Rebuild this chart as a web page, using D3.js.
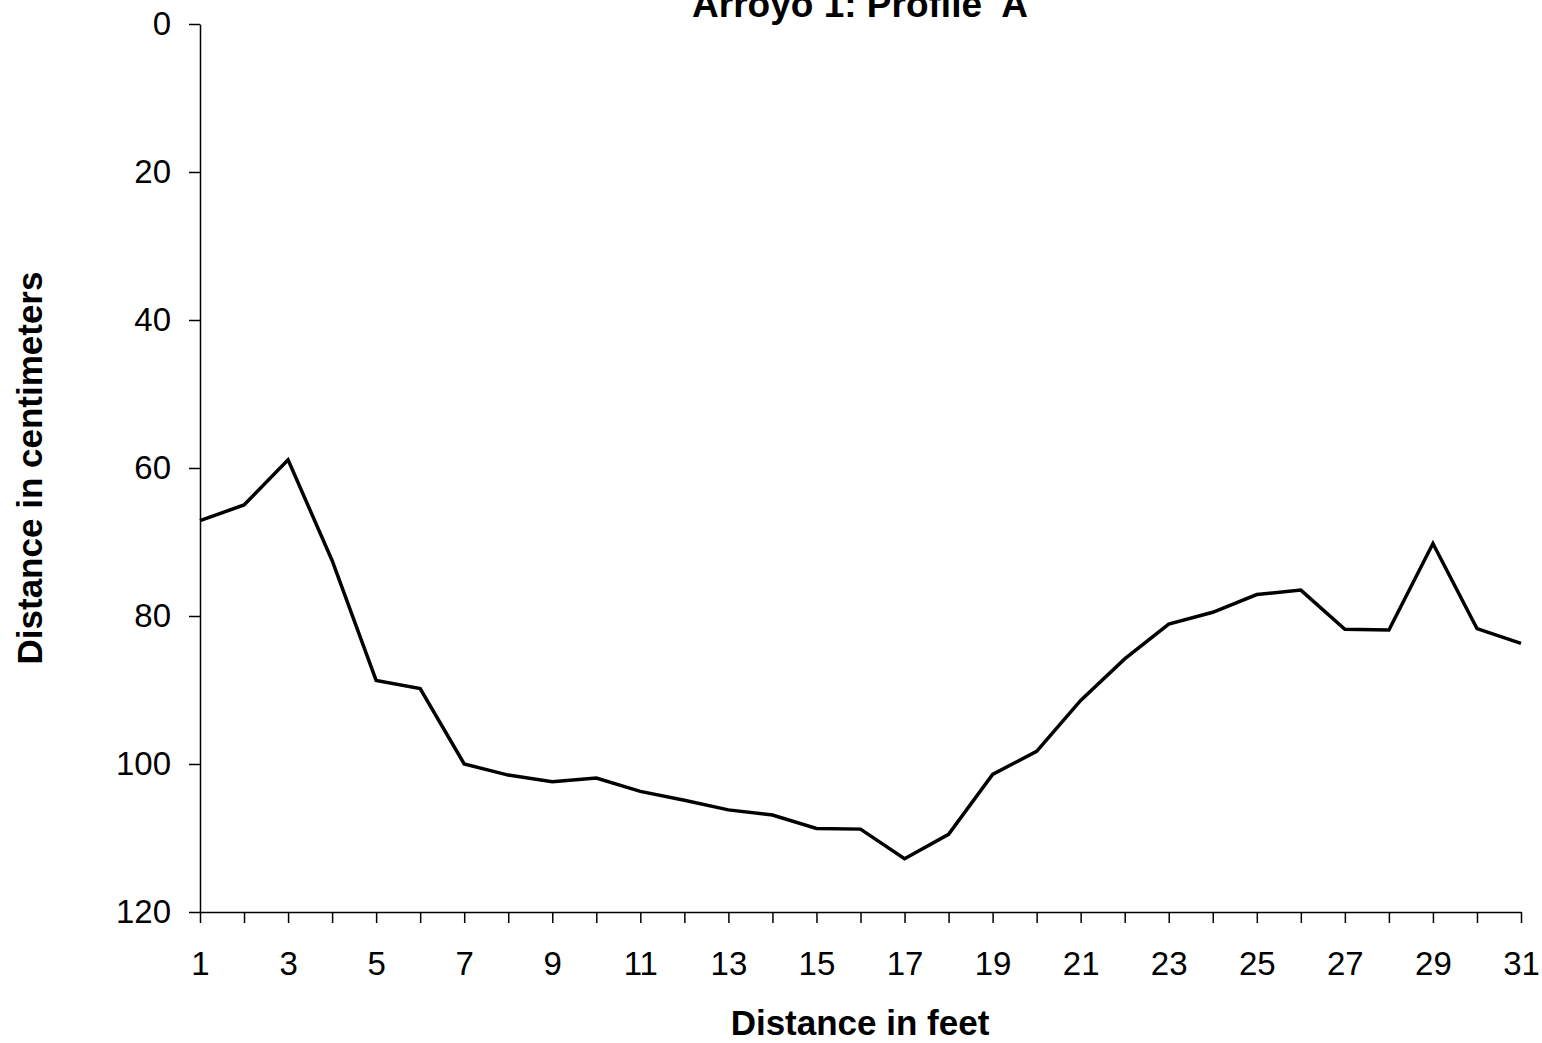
<!DOCTYPE html>
<html><head><meta charset="utf-8">
<script src="https://cdn.jsdelivr.net/npm/d3@7"></script>
<style>
html,body{margin:0;padding:0;background:#fff;}
svg{display:block;font-family:"Liberation Sans",Arial,sans-serif;}
</style></head>
<body>
<script>
const titleText = "Arroyo 1: Profile  A";
const xTitle = "Distance in feet";
const yTitle = "Distance in centimeters";
const feet = d3.range(1, 32);
const depthCm = [67.1, 65.0, 58.9, 72.5, 88.7, 89.8, 100.0, 101.5, 102.4, 101.9,
                 103.7, 104.9, 106.2, 106.9, 108.7, 108.8, 112.8, 109.5, 101.4, 98.3,
                 91.4, 85.8, 81.1, 79.5, 77.1, 76.5, 81.8, 81.9, 70.2, 81.7, 83.7];
const yTicks = [0, 20, 40, 60, 80, 100, 120];
const xLabelTicks = [1,3,5,7,9,11,13,15,17,19,21,23,25,27,29,31];

const W = 1542, H = 1043;
const margin = {left: 200, right: 21, top: 24, bottom: 131};
const svg = d3.select("body").append("svg").attr("width", W).attr("height", H);

const x = d3.scaleLinear().domain([1, 31]).range([margin.left, W - margin.right]);
const y = d3.scaleLinear().domain([0, 120]).range([margin.top, H - margin.bottom]);

const FONT = "Liberation Sans, Arial, sans-serif";

// axes
const yAxis = d3.axisLeft(y).tickValues(yTicks).tickSize(11).tickPadding(18).tickSizeOuter(0);
const gy = svg.append("g").attr("transform", `translate(${margin.left},0)`).call(yAxis);
gy.attr("font-size", 33).attr("font-family", FONT);
gy.selectAll("text").attr("fill", "#000");
gy.selectAll("line,path").attr("stroke", "#000").attr("stroke-width", 1.5);

const xAxis = d3.axisBottom(x).tickValues(feet).tickSize(11).tickPadding(29).tickSizeOuter(0)
  .tickFormat(d => xLabelTicks.includes(d) ? d : "");
const gx = svg.append("g").attr("transform", `translate(0,${y(120)})`).call(xAxis);
gx.attr("font-size", 33).attr("font-family", FONT);
gx.selectAll("text").attr("fill", "#000");
gx.selectAll("line,path").attr("stroke", "#000").attr("stroke-width", 1.5);

// line
const line = d3.line().x((d, i) => x(feet[i])).y(d => y(d));
svg.append("path").datum(depthCm).attr("d", line)
  .attr("fill", "none").attr("stroke", "#000").attr("stroke-width", 3.5)
  .attr("stroke-linejoin", "miter");

// titles
svg.append("text").attr("x", 860).attr("y", 17).attr("text-anchor", "middle")
  .style("white-space", "pre").attr("xml:space", "preserve")
  .attr("font-size", 37).attr("font-weight", "bold").text(titleText);
svg.append("text").attr("x", 860).attr("y", 1035).attr("text-anchor", "middle")
  .attr("font-size", 35).attr("font-weight", "bold").text(xTitle);
svg.append("text").attr("transform", `translate(42,468) rotate(-90)`).attr("text-anchor", "middle")
  .attr("font-size", 35).attr("font-weight", "bold").text(yTitle);
</script>
</body></html>
